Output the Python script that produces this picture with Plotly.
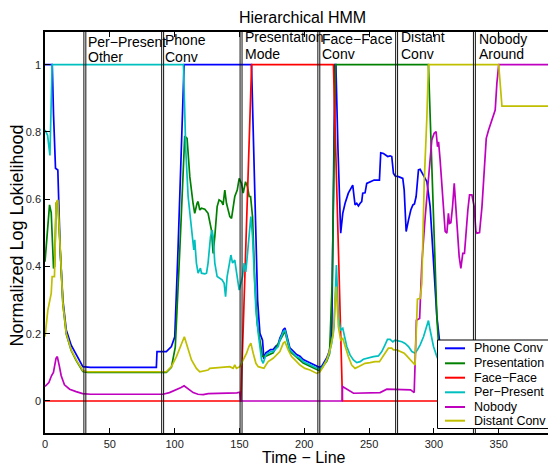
import plotly.graph_objects as go

# ---------------- data (time, normalized log likelihood) ----------------
phone_conv = [
    (0, 1.0), (5.6, 1.0), (6.6, 0.85), (8.1, 0.692), (9.9, 0.687), (10.7, 0.598), (11.7, 0.449),
    (13.8, 0.300), (16.4, 0.211), (20.2, 0.166), (24.1, 0.137), (29.2, 0.102), (35, 0.100),
    (85.9, 0.100), (86.4, 0.147), (93.6, 0.147), (97.5, 0.162), (100.1, 0.191), (102.6, 0.449),
    (105.2, 0.746), (107.3, 1.0), (159.3, 1.0), (162.0, 0.60), (164.0, 0.30), (165.8, 0.201),
    (167.8, 0.181), (168.9, 0.125), (170.4, 0.143), (172.2, 0.148), (174.0, 0.153), (176.0, 0.153),
    (178.1, 0.163), (179.9, 0.168), (181.2, 0.187), (182.5, 0.197), (183.8, 0.212), (185.1, 0.217),
    (186.4, 0.197), (187.6, 0.173), (188.9, 0.158), (191.5, 0.148), (194.1, 0.138), (196.7, 0.133),
    (199.2, 0.123), (201.9, 0.118), (204.4, 0.113), (207.0, 0.108), (209.6, 0.103), (211.6, 0.100),
    (213.4, 0.103), (215.2, 0.113), (217.3, 0.128), (219.3, 0.148), (221.2, 0.190), (223.6, 1.0),
    (224.4, 1.0), (226.0, 0.75), (228.1, 0.499), (229.7, 0.558), (231.5, 0.588), (234.0, 0.618),
    (235.8, 0.632), (237.4, 0.642), (238.4, 0.608), (239.2, 0.583), (240.5, 0.588), (241.8, 0.580),
    (243.1, 0.588), (244.3, 0.593), (245.1, 0.618), (246.9, 0.619), (248.2, 0.647), (249.5, 0.649),
    (252.1, 0.654), (253.9, 0.657), (258.0, 0.657), (259.0, 0.738), (261.1, 0.736), (263.1, 0.731),
    (264.4, 0.727), (266.2, 0.729), (267.5, 0.727), (268.8, 0.677), (270.1, 0.669), (272.7, 0.667),
    (274.5, 0.664), (276.0, 0.662), (277.1, 0.627), (278.6, 0.504), (280.4, 0.538), (282.2, 0.568),
    (283.8, 0.583), (285.0, 0.586), (286.3, 0.608), (288.1, 0.687), (289.4, 0.689), (291.2, 0.677),
    (292.7, 0.667), (294.6, 0.652), (297.1, 0.578), (299.7, 0.429), (302.3, 0.251), (304.3, 0.181),
    (308.0, 0.110), (394.5, 0.105),
]

presentation = [
    (0, 0.414), (3.5, 0.583), (4.8, 0.56), (5.8, 0.459), (6.6, 0.394), (7.4, 0.40), (8.6, 0.588),
    (9.9, 0.596), (11.2, 0.487), (12.5, 0.367), (13.8, 0.288), (16.4, 0.199), (20.2, 0.150),
    (24.1, 0.120), (29.2, 0.088), (33.0, 0.085), (93.6, 0.085), (97.5, 0.100), (100.5, 0.16),
    (104.0, 0.45), (107.8, 0.788), (109.6, 0.781), (111.7, 0.667), (114.2, 0.588), (115.5, 0.558),
    (117.3, 0.588), (118.1, 0.593), (119.4, 0.568), (120.7, 0.573), (123.3, 0.570), (125.8, 0.558),
    (128.4, 0.508), (129.7, 0.439), (131.0, 0.489), (132.8, 0.578), (134.3, 0.598), (136.2, 0.593),
    (137.4, 0.583), (138.7, 0.627), (140.0, 0.588), (142.6, 0.548), (143.9, 0.543), (145.1, 0.578),
    (146.4, 0.608), (148.3, 0.627), (149.8, 0.662), (151.6, 0.647), (152.9, 0.618), (154.7, 0.652),
    (156.2, 0.637), (157.5, 0.608), (158.6, 0.608), (160.1, 0.548), (161.9, 0.350), (163.7, 0.231),
    (165.8, 0.172), (167.8, 0.132), (170.4, 0.133), (176.0, 0.143), (185.1, 0.207), (188.9, 0.148),
    (199.2, 0.113), (211.6, 0.090), (217.3, 0.118), (219.5, 0.140), (221.5, 0.350), (224.2, 1.0),
    (295.8, 1.0), (297.1, 0.85), (299.7, 0.55), (302.3, 0.25), (304.3, 0.12), (306.0, 0.095),
    (394.5, 0.092),
]

face_face = [
    (0, 0.0), (151.1, 0.0), (159.4, 1.0), (222.5, 1.0), (229.5, 0.0), (394.5, 0.0),
]

per_present = [
    (0, 0.806), (2.0, 0.79), (3.8, 0.73), (5.5, 1.0), (106.8, 1.0), (108.6, 0.746), (110.4, 0.608),
    (112.2, 0.548), (113.8, 0.479), (114.8, 0.449), (115.5, 0.479), (116.8, 0.410), (118.1, 0.380),
    (119.9, 0.395), (120.7, 0.380), (123.3, 0.378), (124.6, 0.380), (125.8, 0.410), (127.7, 0.489),
    (128.9, 0.508), (129.7, 0.489), (131.0, 0.410), (132.8, 0.370), (134.9, 0.365), (136.6, 0.360),
    (138.2, 0.350), (139.3, 0.310), (140.5, 0.370), (142.0, 0.410), (143.4, 0.434), (144.7, 0.410),
    (146.4, 0.419), (147.7, 0.384), (149.0, 0.350), (149.8, 0.330), (151.1, 0.350), (152.4, 0.370),
    (153.6, 0.410), (154.9, 0.384), (156.0, 0.429), (157.5, 0.489), (158.8, 0.548), (160.1, 0.489),
    (161.1, 0.400), (162.7, 0.270), (164.5, 0.201), (165.8, 0.152), (167.1, 0.122), (168.3, 0.112),
    (170.4, 0.137), (172.2, 0.142), (174.0, 0.147), (176.0, 0.147), (178.1, 0.157), (179.9, 0.162),
    (181.2, 0.181), (182.5, 0.191), (183.8, 0.206), (185.1, 0.211), (186.4, 0.191), (187.6, 0.167),
    (188.9, 0.152), (191.5, 0.142), (194.1, 0.132), (196.7, 0.127), (199.2, 0.117), (201.9, 0.112),
    (204.4, 0.107), (207.0, 0.102), (209.6, 0.097), (211.6, 0.094), (213.4, 0.097), (215.2, 0.107),
    (217.3, 0.122), (219.3, 0.142), (221.2, 0.172), (223.0, 0.221), (224.0, 0.350), (224.8, 0.404),
    (226.3, 0.251), (228.1, 0.211), (229.7, 0.216), (230.7, 0.201), (232.8, 0.162), (235.3, 0.137),
    (237.9, 0.122), (240.5, 0.114), (243.1, 0.117), (245.6, 0.124), (248.2, 0.127), (250.8, 0.130),
    (253.4, 0.132), (257.2, 0.134), (259.8, 0.147), (262.3, 0.167), (264.2, 0.183), (266.2, 0.183),
    (268.3, 0.176), (270.1, 0.181), (272.7, 0.179), (275.3, 0.176), (277.8, 0.171), (280.4, 0.162),
    (283.0, 0.147), (285.5, 0.142), (287.3, 0.152), (289.4, 0.167), (292.0, 0.191), (294.6, 0.221),
    (295.8, 0.239), (297.1, 0.211), (298.4, 0.181), (299.7, 0.162), (302.3, 0.132), (305.0, 0.110),
    (392.5, 0.100), (394.5, 0.115),
]

nobody = [
    (0, 0.043), (3.0, 0.055), (5.0, 0.075), (6.5, 0.085), (8.5, 0.127), (9.5, 0.132), (11.0, 0.105),
    (12.5, 0.075), (15.0, 0.048), (19.0, 0.035), (24.0, 0.028), (29.0, 0.022), (35.0, 0.020),
    (91.0, 0.020), (96.0, 0.025), (101.5, 0.033), (105.0, 0.040), (107.3, 0.045), (110.4, 0.035),
    (114.3, 0.025), (118.0, 0.020), (122.0, 0.019), (126.0, 0.022), (142.0, 0.023), (148.0, 0.024),
    (150.3, 0.026), (150.8, 0.0), (229.2, 0.0), (229.5, 0.043), (238.0, 0.023), (258.5, 0.025),
    (263.7, 0.035), (279.0, 0.035), (282.0, 0.033), (284.8, 0.025), (286.5, 0.240), (289.0, 0.245),
    (290.7, 0.409), (293.3, 0.548), (295.8, 0.667), (298.4, 0.776), (300.2, 0.796), (301.7, 0.801),
    (302.8, 0.756), (303.6, 0.771), (304.8, 0.717), (306.1, 0.647), (307.4, 0.578), (308.7, 0.504),
    (310.0, 0.499), (311.2, 0.558), (312.0, 0.528), (313.1, 0.530), (314.4, 0.578), (315.7, 0.647),
    (316.9, 0.578), (318.2, 0.489), (319.5, 0.429), (320.8, 0.394), (322.3, 0.439), (323.6, 0.439),
    (324.9, 0.508), (326.2, 0.568), (327.5, 0.613), (329.3, 0.613), (331.1, 0.578), (332.4, 0.504),
    (333.2, 0.499), (335.2, 0.501), (337.1, 0.578), (338.9, 0.687), (340.4, 0.781), (342.2, 0.806),
    (344.8, 0.836), (347.3, 0.865), (348.6, 0.945), (350.0, 1.0), (394.5, 1.0),
]

distant_conv = [
    (0, 0.191), (2.2, 0.27), (4.8, 0.32), (5.5, 0.37), (7.3, 0.37), (8.6, 0.589), (9.9, 0.598),
    (11.2, 0.489), (12.5, 0.369), (13.8, 0.290), (16.4, 0.201), (20.2, 0.152), (24.1, 0.122),
    (29.2, 0.090), (33.0, 0.087), (93.6, 0.087), (97.5, 0.102), (101.4, 0.132), (107.5, 0.191),
    (110.4, 0.152), (113.0, 0.122), (116.8, 0.097), (119.4, 0.087), (125.8, 0.092), (127.1, 0.097),
    (142.6, 0.102), (145.1, 0.097), (146.4, 0.107), (147.7, 0.097), (150.3, 0.102), (152.9, 0.122),
    (155.5, 0.142), (157.3, 0.162), (158.8, 0.172), (160.6, 0.142), (162.7, 0.112), (164.5, 0.102),
    (167.1, 0.100), (168.9, 0.097), (170.4, 0.107), (172.2, 0.117), (176.0, 0.127), (178.7, 0.137),
    (181.2, 0.147), (183.8, 0.172), (185.1, 0.176), (187.6, 0.152), (190.2, 0.132), (192.8, 0.122),
    (196.7, 0.107), (200.5, 0.097), (204.4, 0.092), (209.6, 0.082), (212.1, 0.087), (214.7, 0.102),
    (217.3, 0.122), (219.9, 0.152), (222.4, 0.201), (223.7, 0.291), (224.6, 0.340), (226.3, 0.221),
    (228.1, 0.181), (229.7, 0.186), (231.5, 0.162), (234.0, 0.132), (236.6, 0.107), (239.2, 0.097),
    (241.8, 0.102), (244.3, 0.107), (246.9, 0.112), (250.8, 0.114), (254.6, 0.117), (258.0, 0.117),
    (260.6, 0.132), (263.1, 0.147), (264.9, 0.157), (267.5, 0.157), (268.8, 0.152), (271.4, 0.152),
    (274.0, 0.147), (277.1, 0.142), (279.6, 0.132), (283.0, 0.117), (285.5, 0.107), (287.3, 0.303),
    (289.4, 0.305), (290.7, 0.350), (292.5, 0.647), (294.6, 0.845), (295.8, 1.0), (350.0, 1.0),
    (352.5, 0.877), (392.5, 0.877), (394.5, 0.885),
]

series_names = ["Phone Conv", "Presentation", "Face\u2212Face", "Per\u2212Present", "Nobody", "Distant Conv"]
series_data = [phone_conv, presentation, face_face, per_present, nobody, distant_conv]
series_colors = ["#0000ff", "#008000", "#ff0000", "#00bfbf", "#bf00bf", "#bfbf00"]

boundaries = [30, 31.5, 90, 91.5, 150.5, 152, 210.5, 212, 270.5, 272, 330.5, 332]
segment_labels = [("Per\u2212Present", "Other"), ("Phone", "Conv"), ("Presentation", "Mode"),
                  ("Face\u2212Face", "Conv"), ("Distant", "Conv"), ("Nobody", "Around")]

x_ticks = [0, 50, 100, 150, 200, 250, 300, 350]
y_ticks = [0, 0.2, 0.4, 0.6, 0.8, 1]
y_tick_text = ["0", "0.2", "0.4", "0.6", "0.8", "1"]

# ---------------- layout helpers ----------------
# The page body has an 8px margin, so the figure is drawn at page offset (8, 8).
OFF = 8
W, H = 548, 458
ML, MR, MT, MB = 37, 0, 24, 33
PW, PH = W - ML - MR, H - MT - MB


def px(p):  # page pixel x -> paper
    return (p - OFF - ML) / PW


def py(p):  # page pixel y -> paper
    return (H - MB - (p - OFF)) / PH


FONT = "Liberation Sans, Arial, Helvetica, sans-serif"

fig = go.Figure()
for name, data, col in zip(series_names, series_data, series_colors):
    fig.add_trace(go.Scatter(
        x=[d[0] for d in data], y=[d[1] for d in data], mode="lines", name=name,
        line=dict(color=col, width=1.7), showlegend=False, hoverinfo="skip"))

shapes = []
for b in boundaries:
    shapes.append(dict(type="line", xref="x", yref="paper", x0=b, x1=b, y0=0, y1=1,
                       line=dict(color="#111111", width=1), layer="above"))
# right-side inward ticks (axes box is cut at the right edge)
for yt in y_ticks:
    shapes.append(dict(type="line", xref="paper", yref="y", x0=px(551), x1=px(556.5), y0=yt, y1=yt,
                       line=dict(color="black", width=1), layer="above"))
# legend box
shapes.append(dict(type="rect", xref="paper", yref="paper", x0=px(437.5), x1=px(553), y0=py(428.5), y1=py(340),
                   line=dict(color="black", width=1), fillcolor="white", layer="above"))

annotations = []
leg_rows = [348.3, 363.3, 377.7, 392.3, 407.0, 420.7]
for name, col, r in zip(series_names, series_colors, leg_rows):
    shapes.append(dict(type="line", xref="paper", yref="paper", x0=px(445), x1=px(465), y0=py(r), y1=py(r),
                       line=dict(color=col, width=2), layer="above"))
    annotations.append(dict(text=name, xref="paper", yref="paper", x=px(472.5), y=py(r),
                            xanchor="left", yanchor="middle", showarrow=False, borderpad=0,
                            font=dict(family=FONT, size=12.5, color="black")))

label_pos = [(86.5, 42.5, 57.5), (164.0, 40.0, 57.0), (244.3, 37.5, 53.5), (321.3, 38.5, 53.5),
             (400.3, 37.5, 53.5), (478.0, 38.5, 54.0)]
for (l1, l2), (lx, y1, y2) in zip(segment_labels, label_pos):
    for t, yy in ((l1, y1), (l2, y2)):
        annotations.append(dict(text=t, xref="paper", yref="paper", x=px(lx), y=py(yy),
                                xanchor="left", yanchor="middle", showarrow=False, borderpad=0,
                                font=dict(family=FONT, size=14, color="black")))

annotations.append(dict(text="Hierarchical HMM", xref="paper", yref="paper", x=px(302), y=py(17.5),
                        xanchor="center", yanchor="middle", showarrow=False, borderpad=0,
                        font=dict(family=FONT, size=16, color="black")))
annotations.append(dict(text="Time \u2212 Line", xref="paper", yref="paper", x=px(304), y=py(457),
                        xanchor="center", yanchor="middle", showarrow=False,
                        font=dict(family=FONT, size=16, color="black")))
annotations.append(dict(text="Normalized Log Lokielihood", xref="paper", yref="paper", x=px(16.5), y=py(236),
                        xanchor="center", yanchor="middle", showarrow=False, textangle=-90,
                        font=dict(family=FONT, size=18, color="black")))

fig.update_layout(
    width=W, height=H, margin=dict(l=ML, r=MR, t=MT, b=MB, pad=0, autoexpand=False),
    paper_bgcolor="white", plot_bgcolor="white",
    shapes=shapes, annotations=annotations, showlegend=False,
    xaxis=dict(range=[0, 394.2], tickvals=x_ticks, ticks="inside", ticklen=5, tickcolor="black",
               showline=True, linecolor="black", linewidth=1.6, mirror="ticks", showgrid=False,
               zeroline=False, automargin=False,
               tickfont=dict(family=FONT, size=11, color="#222222")),
    yaxis=dict(range=[-0.0952, 1.0972], tickvals=y_ticks, ticktext=y_tick_text, ticks="inside",
               ticklen=5, tickcolor="black", showline=True, linecolor="black", linewidth=1.6,
               showgrid=False, zeroline=False, automargin=False,
               tickfont=dict(family=FONT, size=11, color="#222222")),
)

fig.write_html("out.html")
